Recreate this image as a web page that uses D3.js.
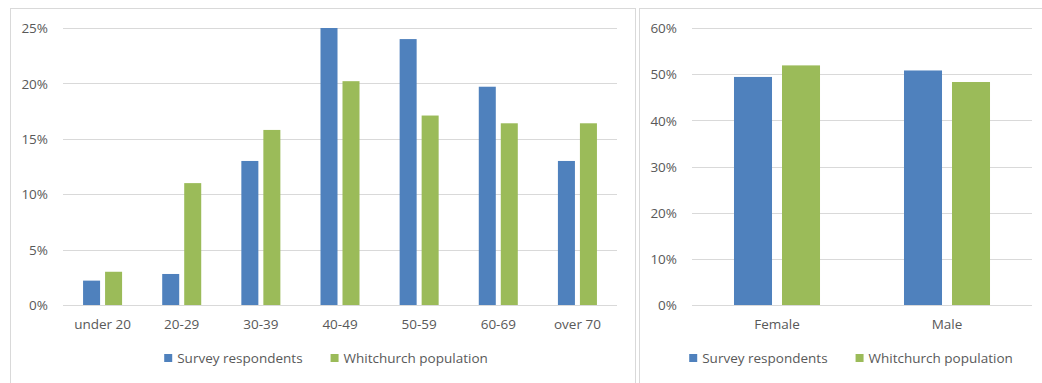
<html>
<head>
<script src="https://d3js.org/d3.v7.min.js"></script>
<style>
  body { margin: 0; background: white; }
  svg { display: block; }
  .lbl { font-family: "Open Sans", sans-serif; font-size: 13.5px; fill: #595959; }
</style>
</head>
<body>
<svg width="1042" height="383"></svg>
<script>
// data
var seriesNames = ["Survey respondents", "Whitchurch population"];
var seriesColors = ["#4f81bd", "#9bbb59"];

var ageGroups = ["under 20", "20-29", "30-39", "40-49", "50-59", "60-69", "over 70"];
var ageSurvey = [2.2, 2.8, 13.0, 25.0, 24.0, 19.7, 13.0];
var agePopulation = [3.0, 11.0, 15.8, 20.2, 17.1, 16.4, 16.4];
var ageTicks = [0, 5, 10, 15, 20, 25];

var genders = ["Female", "Male"];
var genderSurvey = [49.4, 50.8];
var genderPopulation = [51.9, 48.3];
var genderTicks = [0, 10, 20, 30, 40, 50, 60];

var svg = d3.select("svg");

// panel frames
svg.append("rect").attr("x", 10.5).attr("y", 8.5).attr("width", 625).attr("height", 400)
  .attr("fill", "none").attr("stroke", "#d9d9d9");
svg.append("rect").attr("x", 639.5).attr("y", 8.5).attr("width", 420).attr("height", 400)
  .attr("fill", "none").attr("stroke", "#d9d9d9");

function drawChart(opt) {
  var cats = opt.cats;
  var rows = cats.map(function(c, i) { return {cat: c, vals: [opt.a[i], opt.b[i]]}; });

  var x = d3.scaleBand().domain(cats).range([opt.x0, opt.x1])
    .paddingInner(opt.pad).paddingOuter(opt.pad / 2);
  var xi = d3.scaleBand().domain([0, 1]).range([0, x.bandwidth()]).paddingInner(opt.innerPad);
  var y = d3.scaleLinear().domain([0, d3.max(opt.ticks)]).range([305, 28]);

  var g = svg.append("g");

  // gridlines
  g.append("g").selectAll("line").data(opt.ticks).enter()
    .append("line")
    .attr("x1", opt.x0).attr("x2", opt.x1)
    .attr("y1", function(d) { return Math.round(y(d)) + 0.5; })
    .attr("y2", function(d) { return Math.round(y(d)) + 0.5; })
    .attr("stroke", "#d9d9d9");

  // y labels
  var yAxis = g.append("g").attr("transform", "translate(" + opt.x0 + ",0)")
    .call(d3.axisLeft(y).tickValues(opt.ticks).tickFormat(function(d) { return d + "%"; })
      .tickSize(0).tickPadding(opt.x0 - opt.labelRight));
  yAxis.select(".domain").remove();
  yAxis.selectAll("text").attr("class", "lbl").attr("font-family", null).attr("font-size", null)
    .attr("dy", "0.35em");

  // bars
  g.append("g").selectAll("g").data(rows).enter()
    .append("g").attr("transform", function(d) { return "translate(" + x(d.cat) + ",0)"; })
    .selectAll("rect").data(function(d) { return d.vals; }).enter()
    .append("rect")
    .attr("x", function(d, i) { return xi(i); })
    .attr("width", xi.bandwidth())
    .attr("y", function(d) { return y(d); })
    .attr("height", function(d) { return y(0) - y(d); })
    .attr("fill", function(d, i) { return seriesColors[i]; });

  // x labels
  var xAxis = g.append("g").attr("transform", "translate(0,305)")
    .call(d3.axisBottom(x).tickSize(0).tickPadding(14));
  xAxis.select(".domain").remove();
  xAxis.selectAll("text").attr("class", "lbl").attr("font-family", null).attr("font-size", null);

  // legend
  var leg = g.append("g");
  var items = leg.selectAll("g").data(seriesNames).enter().append("g");
  items.append("rect").attr("width", 8).attr("height", 8).attr("y", -4)
    .attr("fill", function(d, i) { return seriesColors[i]; });
  items.append("text").attr("class", "lbl").attr("x", 13).attr("dy", "0.35em")
    .text(function(d) { return d; });
  var cx = 0;
  items.each(function() {
    d3.select(this).attr("transform", "translate(" + cx + ",0)");
    cx += this.getBBox().width + 28;
  });
  var total = cx - 28;
  leg.attr("transform", "translate(" + (opt.legendCenter - total / 2) + ",358)");
}

drawChart({cats: ageGroups, a: ageSurvey, b: agePopulation, ticks: ageTicks,
  x0: 63, x1: 617, labelRight: 48, pad: 0.507, innerPad: 0.227, legendCenter: 326});

drawChart({cats: genders, a: genderSurvey, b: genderPopulation, ticks: genderTicks,
  x0: 692, x1: 1032, labelRight: 677, pad: 0.494, innerPad: 0.208, legendCenter: 851});
</script>
</body>
</html>
